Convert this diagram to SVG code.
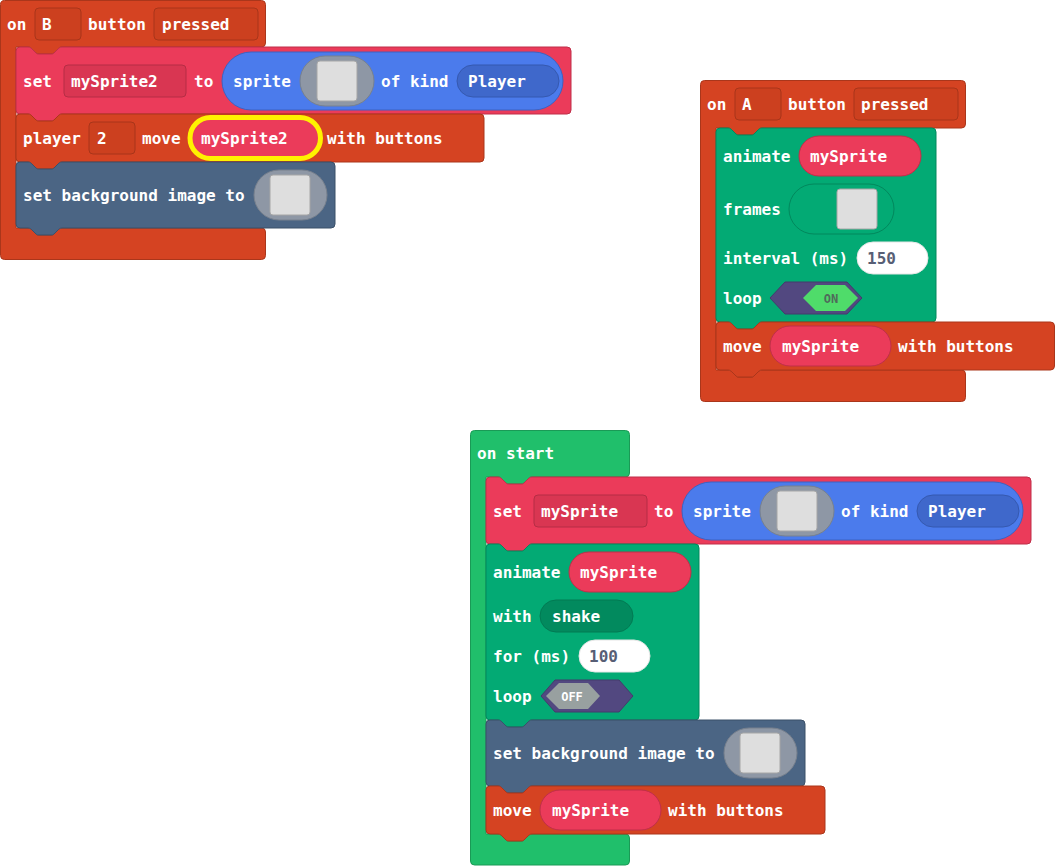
<svg xmlns="http://www.w3.org/2000/svg" width="1055" height="866" viewBox="0 0 1055 866">
  <style>
    .t { font-family: "DejaVu Sans Mono", "Liberation Mono", monospace; font-weight: bold; font-size: 16px; fill: #ffffff; }
    .num { fill: #575e75; }
    .tog { font-family: "DejaVu Sans Mono", "Liberation Mono", monospace; font-weight: bold; font-size: 12px; text-anchor: middle; }
    .ctrl { fill: #d54322; stroke: #aa361b; stroke-width: 1; }
    .ctrlField { fill: #cc401f; stroke: #a8351a; stroke-width: 1; }
    .vars { fill: #eb3b5a; stroke: #bf2f49; stroke-width: 1; }
    .varField { fill: #d93652; stroke: #b52d45; stroke-width: 1; }
    .sprite { fill: #4b7bec; stroke: #3c63c2; stroke-width: 1; }
    .kind { fill: #3f68cb; stroke: #3559b0; stroke-width: 1; }
    .imgPill { fill: #8e97a5; stroke: #78818e; stroke-width: 1; }
    .imgBox { fill: #dedede; stroke: #a6a6a6; stroke-width: 1; }
    .scene { fill: #4b6584; stroke: #3b5069; stroke-width: 1; }
    .anim { fill: #03aa74; stroke: #02885d; stroke-width: 1; }
    .animDark { fill: #028a5e; stroke: #027a53; stroke-width: 1; }
    .start { fill: #20bf6b; stroke: #1a9a56; stroke-width: 1; }
    .numPill { fill: #ffffff; stroke: #e6e6e6; stroke-width: 1; }
    .togBack { fill: #524880; stroke: #443b6c; stroke-width: 1; }
    .togOn { fill: #4fdc6a; }
    .togOff { fill: #98a0a0; }
    .focus { fill: none; stroke: #fff200; stroke-width: 5; }
  </style>

  <!-- on B button pressed -->
  <g id="on-b-pressed">
    <path class="ctrl" d="M0.5,4.5 a4,4 0 0 1 4,-4 H261.5 a4,4 0 0 1 4,4 V43 a4,4 0 0 1 -4,4 H62 c-2,0 -3,1 -4,2 l-4,4 c-1,1 -2,1 -3,1 h-12 c-1,0 -2,0 -3,-1 l-4,-4 c-1,-1 -2,-2 -4,-2 H16 V228 H28 c2,0 3,1 4,2 l4,4 c1,1 2,1 3,1 h12 c1,0 2,0 3,-1 l4,-4 c1,-1 2,-2 4,-2 H261.5 a4,4 0 0 1 4,4 V255.5 a4,4 0 0 1 -4,4 H4.5 a4,4 0 0 1 -4,-4 Z"/>
    <rect class="ctrlField" x="35" y="8" width="46" height="32" rx="4"/>
    <rect class="ctrlField" x="154" y="8" width="104" height="32" rx="4"/>
    <text class="t" x="7" y="30">on</text>
    <text class="t" x="42" y="30">B</text>
    <text class="t" x="88" y="30">button</text>
    <text class="t" x="162" y="30">pressed</text>
  </g>

  <g id="set-mysprite2">
    <path class="vars" d="M16,51 a4,4 0 0 1 4,-4 H28 c2,0 3,1 4,2 l4,4 c1,1 2,1 3,1 h12 c1,0 2,0 3,-1 l4,-4 c1,-1 2,-2 4,-2 H567 a4,4 0 0 1 4,4 V110 a4,4 0 0 1 -4,4 H62 c-2,0 -3,1 -4,2 l-4,4 c-1,1 -2,1 -3,1 h-12 c-1,0 -2,0 -3,-1 l-4,-4 c-1,-1 -2,-2 -4,-2 H20 a4,4 0 0 1 -4,-4 Z"/>
    <rect class="varField" x="64" y="65" width="122" height="32" rx="4"/>
    <text class="t" x="23" y="87">set</text>
    <text class="t" x="71" y="87">mySprite2</text>
    <text class="t" x="194" y="87">to</text>
    <rect class="sprite" x="222" y="52" width="341" height="58" rx="29"/>
    <text class="t" x="233" y="87">sprite</text>
    <rect class="imgPill" x="300" y="56" width="74" height="50" rx="25"/>
    <rect class="imgBox" x="317" y="61" width="40" height="40" rx="3"/>
    <text class="t" x="381" y="87">of kind</text>
    <rect class="kind" x="457" y="65" width="102" height="32" rx="16"/>
    <text class="t" x="468" y="87">Player</text>
  </g>

  <g id="player2-move">
    <path class="ctrl" d="M16,118 a4,4 0 0 1 4,-4 H28 c2,0 3,1 4,2 l4,4 c1,1 2,1 3,1 h12 c1,0 2,0 3,-1 l4,-4 c1,-1 2,-2 4,-2 H480 a4,4 0 0 1 4,4 V158 a4,4 0 0 1 -4,4 H62 c-2,0 -3,1 -4,2 l-4,4 c-1,1 -2,1 -3,1 h-12 c-1,0 -2,0 -3,-1 l-4,-4 c-1,-1 -2,-2 -4,-2 H20 a4,4 0 0 1 -4,-4 Z"/>
    <rect class="ctrlField" x="89" y="122" width="46" height="32" rx="4"/>
    <text class="t" x="23" y="144">player</text>
    <text class="t" x="97" y="144">2</text>
    <text class="t" x="142" y="144">move</text>
    <rect class="vars" x="190" y="117.5" width="130" height="41" rx="20.5"/>
    <rect class="focus" x="190" y="117.5" width="130.5" height="41" rx="20.5"/>
    <text class="t" x="201" y="144">mySprite2</text>
    <text class="t" x="327" y="144">with buttons</text>
  </g>

  <g id="set-background-1">
    <path class="scene" d="M16,166 a4,4 0 0 1 4,-4 H28 c2,0 3,1 4,2 l4,4 c1,1 2,1 3,1 h12 c1,0 2,0 3,-1 l4,-4 c1,-1 2,-2 4,-2 H331 a4,4 0 0 1 4,4 V224 a4,4 0 0 1 -4,4 H62 c-2,0 -3,1 -4,2 l-4,4 c-1,1 -2,1 -3,1 h-12 c-1,0 -2,0 -3,-1 l-4,-4 c-1,-1 -2,-2 -4,-2 H20 a4,4 0 0 1 -4,-4 Z"/>
    <text class="t" x="23" y="201">set background image to</text>
    <rect class="imgPill" x="254" y="170" width="73" height="50" rx="25"/>
    <rect class="imgBox" x="270" y="175" width="40" height="40" rx="3"/>
  </g>

  <!-- on A button pressed -->
  <g id="on-a-pressed">
    <path class="ctrl" d="M700.5,84.5 a4,4 0 0 1 4,-4 H961.5 a4,4 0 0 1 4,4 V124 a4,4 0 0 1 -4,4 H762 c-2,0 -3,1 -4,2 l-4,4 c-1,1 -2,1 -3,1 h-12 c-1,0 -2,0 -3,-1 l-4,-4 c-1,-1 -2,-2 -4,-2 H716 V370 H728 c2,0 3,1 4,2 l4,4 c1,1 2,1 3,1 h12 c1,0 2,0 3,-1 l4,-4 c1,-1 2,-2 4,-2 H961.5 a4,4 0 0 1 4,4 V397.5 a4,4 0 0 1 -4,4 H704.5 a4,4 0 0 1 -4,-4 Z"/>
    <rect class="ctrlField" x="735" y="88" width="46" height="32" rx="4"/>
    <rect class="ctrlField" x="854" y="88" width="104" height="32" rx="4"/>
    <text class="t" x="707" y="110">on</text>
    <text class="t" x="742" y="110">A</text>
    <text class="t" x="788" y="110">button</text>
    <text class="t" x="861" y="110">pressed</text>
  </g>

  <g id="animate-frames">
    <path class="anim" d="M716,132 a4,4 0 0 1 4,-4 H728 c2,0 3,1 4,2 l4,4 c1,1 2,1 3,1 h12 c1,0 2,0 3,-1 l4,-4 c1,-1 2,-2 4,-2 H932 a4,4 0 0 1 4,4 V318 a4,4 0 0 1 -4,4 H762 c-2,0 -3,1 -4,2 l-4,4 c-1,1 -2,1 -3,1 h-12 c-1,0 -2,0 -3,-1 l-4,-4 c-1,-1 -2,-2 -4,-2 H720 a4,4 0 0 1 -4,-4 Z"/>
    <text class="t" x="723" y="162">animate</text>
    <rect class="vars" x="799" y="136" width="122" height="40" rx="20"/>
    <text class="t" x="810" y="162">mySprite</text>
    <text class="t" x="723" y="215">frames</text>
    <rect class="anim" x="789" y="184" width="105" height="50" rx="25"/>
    <rect class="imgBox" x="837" y="189" width="40" height="40" rx="3"/>
    <text class="t" x="723" y="264">interval (ms)</text>
    <rect class="numPill" x="857" y="242" width="71" height="32" rx="16"/>
    <text class="t num" x="867" y="264">150</text>
    <text class="t" x="723" y="304">loop</text>
    <polygon class="togBack" points="770,298 785,282 847,282 862,298 847,314 785,314"/>
    <polygon class="togOn" points="803,298 816,285 845,285 858,298 845,311 816,311"/>
    <text class="tog" x="831" y="302.5" fill="#4f6b5a">ON</text>
  </g>

  <g id="move-mysprite-a">
    <path class="ctrl" d="M716,326 a4,4 0 0 1 4,-4 H728 c2,0 3,1 4,2 l4,4 c1,1 2,1 3,1 h12 c1,0 2,0 3,-1 l4,-4 c1,-1 2,-2 4,-2 H1050.5 a4,4 0 0 1 4,4 V366 a4,4 0 0 1 -4,4 H762 c-2,0 -3,1 -4,2 l-4,4 c-1,1 -2,1 -3,1 h-12 c-1,0 -2,0 -3,-1 l-4,-4 c-1,-1 -2,-2 -4,-2 H720 a4,4 0 0 1 -4,-4 Z"/>
    <text class="t" x="723" y="352">move</text>
    <rect class="vars" x="770" y="326" width="121" height="40" rx="20"/>
    <text class="t" x="782" y="352">mySprite</text>
    <text class="t" x="898" y="352">with buttons</text>
  </g>

  <!-- on start -->
  <g id="on-start">
    <path class="start" d="M470.5,434.5 a4,4 0 0 1 4,-4 H625.5 a4,4 0 0 1 4,4 V473 a4,4 0 0 1 -4,4 H532 c-2,0 -3,1 -4,2 l-4,4 c-1,1 -2,1 -3,1 h-12 c-1,0 -2,0 -3,-1 l-4,-4 c-1,-1 -2,-2 -4,-2 H486 V834 H498 c2,0 3,1 4,2 l4,4 c1,1 2,1 3,1 h12 c1,0 2,0 3,-1 l4,-4 c1,-1 2,-2 4,-2 H625.5 a4,4 0 0 1 4,4 V861 a4,4 0 0 1 -4,4 H474.5 a4,4 0 0 1 -4,-4 Z"/>
    <text class="t" x="477" y="459">on start</text>
  </g>

  <g id="set-mysprite">
    <path class="vars" d="M486,481 a4,4 0 0 1 4,-4 H498 c2,0 3,1 4,2 l4,4 c1,1 2,1 3,1 h12 c1,0 2,0 3,-1 l4,-4 c1,-1 2,-2 4,-2 H1027 a4,4 0 0 1 4,4 V540 a4,4 0 0 1 -4,4 H532 c-2,0 -3,1 -4,2 l-4,4 c-1,1 -2,1 -3,1 h-12 c-1,0 -2,0 -3,-1 l-4,-4 c-1,-1 -2,-2 -4,-2 H490 a4,4 0 0 1 -4,-4 Z"/>
    <rect class="varField" x="534" y="495" width="113" height="32" rx="4"/>
    <text class="t" x="493" y="517">set</text>
    <text class="t" x="541" y="517">mySprite</text>
    <text class="t" x="654" y="517">to</text>
    <rect class="sprite" x="682" y="482" width="341" height="58" rx="29"/>
    <text class="t" x="693" y="517">sprite</text>
    <rect class="imgPill" x="760" y="486" width="74" height="50" rx="25"/>
    <rect class="imgBox" x="777" y="491" width="40" height="40" rx="3"/>
    <text class="t" x="841" y="517">of kind</text>
    <rect class="kind" x="917" y="495" width="102" height="32" rx="16"/>
    <text class="t" x="928" y="517">Player</text>
  </g>

  <g id="animate-shake">
    <path class="anim" d="M486,548 a4,4 0 0 1 4,-4 H498 c2,0 3,1 4,2 l4,4 c1,1 2,1 3,1 h12 c1,0 2,0 3,-1 l4,-4 c1,-1 2,-2 4,-2 H695 a4,4 0 0 1 4,4 V716 a4,4 0 0 1 -4,4 H532 c-2,0 -3,1 -4,2 l-4,4 c-1,1 -2,1 -3,1 h-12 c-1,0 -2,0 -3,-1 l-4,-4 c-1,-1 -2,-2 -4,-2 H490 a4,4 0 0 1 -4,-4 Z"/>
    <text class="t" x="493" y="578">animate</text>
    <rect class="vars" x="569" y="552" width="122" height="40" rx="20"/>
    <text class="t" x="580" y="578">mySprite</text>
    <text class="t" x="493" y="622">with</text>
    <rect class="animDark" x="540" y="600" width="93" height="32" rx="16"/>
    <text class="t" x="552" y="622">shake</text>
    <text class="t" x="493" y="662">for (ms)</text>
    <rect class="numPill" x="579" y="640" width="71" height="32" rx="16"/>
    <text class="t num" x="589" y="662">100</text>
    <text class="t" x="493" y="702">loop</text>
    <polygon class="togBack" points="541,696 555,680 619,680 633,696 619,712 555,712"/>
    <polygon class="togOff" points="546,696 559,683 588,683 600,696 588,709 559,709"/>
    <text class="tog" x="572" y="700.5" fill="#ffffff">OFF</text>
  </g>

  <g id="set-background-2">
    <path class="scene" d="M486,724 a4,4 0 0 1 4,-4 H498 c2,0 3,1 4,2 l4,4 c1,1 2,1 3,1 h12 c1,0 2,0 3,-1 l4,-4 c1,-1 2,-2 4,-2 H801 a4,4 0 0 1 4,4 V782 a4,4 0 0 1 -4,4 H532 c-2,0 -3,1 -4,2 l-4,4 c-1,1 -2,1 -3,1 h-12 c-1,0 -2,0 -3,-1 l-4,-4 c-1,-1 -2,-2 -4,-2 H490 a4,4 0 0 1 -4,-4 Z"/>
    <text class="t" x="493" y="759">set background image to</text>
    <rect class="imgPill" x="724" y="728" width="73" height="50" rx="25"/>
    <rect class="imgBox" x="740" y="733" width="40" height="40" rx="3"/>
  </g>

  <g id="move-mysprite-start">
    <path class="ctrl" d="M486,790 a4,4 0 0 1 4,-4 H498 c2,0 3,1 4,2 l4,4 c1,1 2,1 3,1 h12 c1,0 2,0 3,-1 l4,-4 c1,-1 2,-2 4,-2 H821 a4,4 0 0 1 4,4 V830 a4,4 0 0 1 -4,4 H532 c-2,0 -3,1 -4,2 l-4,4 c-1,1 -2,1 -3,1 h-12 c-1,0 -2,0 -3,-1 l-4,-4 c-1,-1 -2,-2 -4,-2 H490 a4,4 0 0 1 -4,-4 Z"/>
    <text class="t" x="493" y="816">move</text>
    <rect class="vars" x="540" y="790" width="121" height="40" rx="20"/>
    <text class="t" x="552" y="816">mySprite</text>
    <text class="t" x="668" y="816">with buttons</text>
  </g>
</svg>
